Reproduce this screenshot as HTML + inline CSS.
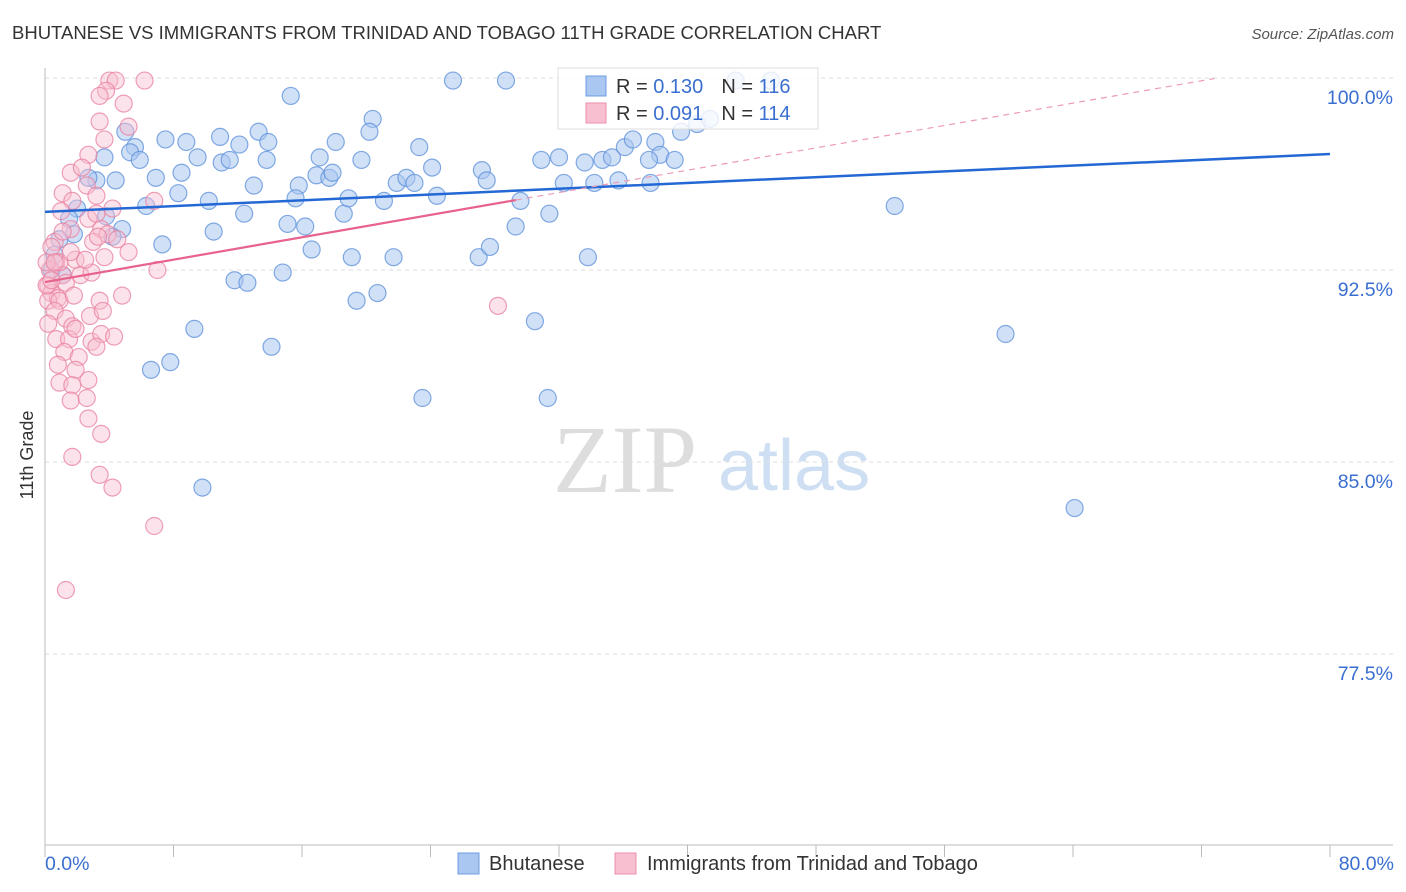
<!DOCTYPE html>
<html><head><meta charset="utf-8">
<style>
body{margin:0;background:#fff;width:1406px;height:892px;overflow:hidden;font-family:"Liberation Sans",sans-serif}
svg{position:absolute;left:0;top:0}
</style></head>
<body>
<svg id="chart" width="1406" height="892" xmlns="http://www.w3.org/2000/svg">
<text x="12" y="39" font-size="18.5" fill="#333">BHUTANESE VS IMMIGRANTS FROM TRINIDAD AND TOBAGO 11TH GRADE CORRELATION CHART</text>
<text x="1394" y="39" font-size="15" fill="#555" font-style="italic" text-anchor="end">Source: ZipAtlas.com</text>
<g>
<text x="553" y="492" font-family="Liberation Serif,serif" font-size="96" fill="#ddd">ZIP</text>
<text x="718" y="490" font-size="72" fill="#cfdff3">atlas</text>
</g>
<g id="grid"></g>
<g id="axes"></g>
<g id="pts"></g>
<g id="trend"></g>
<g>
<rect x="558" y="68" width="260" height="61" fill="#fff" fill-opacity="0.8" stroke="#ddd"/>
<rect x="586" y="76" width="20" height="20" fill="#a9c7f0" stroke="#6d9ee0"/>
<rect x="586" y="103" width="20" height="20" fill="#f8bfd0" stroke="#eb8fab"/>
<text x="616" y="93" font-size="20" fill="#333">R = <tspan fill="#3a6fd0">0.130</tspan><tspan dx="18">N = </tspan><tspan fill="#3a6fd0">116</tspan></text>
<text x="616" y="120" font-size="20" fill="#333">R = <tspan fill="#3a6fd0">0.091</tspan><tspan dx="18">N = </tspan><tspan fill="#3a6fd0">114</tspan></text>
</g>
<text transform="translate(33,455) rotate(-90)" font-size="18" fill="#333" text-anchor="middle">11th Grade</text>
<text x="45" y="870" font-size="19.5" fill="#3a6fd0">0.0%</text>
<text x="1394" y="870" font-size="19.5" fill="#3a6fd0" text-anchor="end">80.0%</text>
<g>
<rect x="458" y="853" width="21" height="21" fill="#a9c7f0" stroke="#6d9ee0"/>
<text x="489" y="870" font-size="20" fill="#333">Bhutanese</text>
<rect x="615" y="853" width="21" height="21" fill="#f8bfd0" stroke="#eb8fab"/>
<text x="647" y="870" font-size="20" fill="#333">Immigrants from Trinidad and Tobago</text>
</g>
</svg>
<script>
const yTicks=[100,92.5,85,77.5];
const yTickLabels=["100.0%","92.5%","85.0%","77.5%"];
const xTicks=[0,8,16,24,32,40,48,56,64,72,80];
const blueX=[25.4,28.7,43.0,45.2,15.3,20.4,5.0,7.5,8.8,10.9,13.3,13.9,18.1,20.2,23.3,12.1,5.6,5.3,5.9,3.7,3.2,4.4,2.7,9.5,11.0,11.5,13.8,17.1,19.7,24.1,30.9,32.0,33.6,34.7,35.3,36.1,36.6,38.0,38.3,39.2,37.6,39.6,40.6,41.4,8.5,6.9,13.0,15.8,16.9,17.7,17.9,21.9,22.5,23.0,27.2,27.5,29.6,32.3,34.2,35.7,37.7,8.3,10.2,12.4,15.6,18.6,18.9,21.1,24.4,6.3,2.0,1.5,1.8,3.8,4.8,4.2,7.3,10.5,15.1,16.2,16.6,19.1,21.7,27.0,27.7,29.3,31.4,33.8,52.9,11.8,12.6,14.8,19.4,20.7,9.3,14.1,6.6,7.8,30.5,59.8,23.5,31.3,9.8,64.1,0.9,0.6,1.1,0.4];
const blueY=[99.9,99.9,99.9,99.9,99.3,98.4,97.9,97.6,97.5,97.7,97.9,97.5,97.5,97.9,97.3,97.4,97.3,97.1,96.8,96.9,96.0,96.0,96.1,96.9,96.7,96.8,96.8,96.9,96.8,96.5,96.8,96.9,96.7,96.8,96.9,97.3,97.6,97.5,97.0,96.8,96.8,97.9,98.2,98.4,96.3,96.1,95.8,95.8,96.2,96.1,96.3,95.9,96.1,95.9,96.4,96.0,95.2,95.9,95.9,96.0,95.9,95.5,95.2,94.7,95.3,94.7,95.3,95.2,95.4,95.0,94.9,94.5,93.9,94.6,94.1,93.8,93.5,94.0,94.3,94.2,93.3,93.0,93.0,93.0,93.4,94.2,94.7,93.0,95.0,92.1,92.0,92.4,91.3,91.6,90.2,89.5,88.6,88.9,90.5,90.0,87.5,87.5,84.0,83.2,93.7,93.1,92.3,92.5];
const pinkX=[4.0,4.4,6.2,3.8,4.9,3.4,5.2,3.4,2.7,3.7,1.6,2.3,2.6,3.2,1.1,1.7,4.2,2.7,3.2,1.0,0.6,1.6,3.5,3.9,4.5,5.2,3.0,0.7,1.1,1.9,0.3,0.2,0.4,0.8,1.3,2.2,2.9,0.2,0.9,1.8,3.4,4.8,7.0,0.6,1.3,1.7,2.8,3.6,0.2,0.7,1.5,1.9,2.9,3.5,4.3,1.2,2.1,3.2,0.8,1.9,0.9,1.7,2.7,1.6,2.6,2.7,3.5,1.7,3.4,4.2,6.8,1.3,6.8,3.7,3.3,1.1,0.4,2.5,0.9,0.1,0.1,0.4,0.6,1.6,28.2];
const pinkY=[99.9,99.9,99.9,99.5,99.0,99.3,98.1,98.3,97.0,97.6,96.3,96.5,95.8,95.4,95.5,95.2,94.9,94.5,94.7,94.8,93.6,94.1,94.1,93.9,93.7,93.2,93.6,92.8,92.3,92.9,92.5,91.9,91.6,91.4,92.0,92.3,92.4,91.3,91.3,91.5,91.3,91.5,92.5,90.9,90.6,90.3,90.7,90.9,90.4,89.8,89.8,90.2,89.7,90.0,89.9,89.3,89.1,89.5,88.8,88.6,88.1,88.0,88.2,87.4,87.5,86.7,86.1,85.2,84.5,84.0,82.5,80.0,95.2,93.0,93.8,94.0,93.4,92.9,92.8,92.8,91.9,92.1,92.8,93.2,91.1];
const blueTrend=[[0,94.77],[80,97.03]];
const pinkTrendSolid=[[0,92.03],[29.3,95.23]];
const pinkTrendDash=[[29.3,95.23],[72.8,99.98]];

const NS="http://www.w3.org/2000/svg";
const X=v=>45+v/80*1285;
const Y=v=>78+(100-v)/7.5*192;
function mk(tag,attrs,parent){const e=document.createElementNS(NS,tag);for(const k in attrs)e.setAttribute(k,attrs[k]);parent.appendChild(e);return e;}
const grid=document.getElementById('grid'),axes=document.getElementById('axes'),pts=document.getElementById('pts'),trend=document.getElementById('trend');
yTicks.forEach((t,i)=>{
 const l=mk('line',{x1:45,x2:1393,y1:Y(t),y2:Y(t),stroke:'#ddd','stroke-dasharray':'4,4'},grid);
 
 
 const tx=mk('text',{x:1393,y:Y(t)+26,'font-size':19.5,fill:'#3a6fd0','text-anchor':'end'},grid);
 tx.textContent=yTickLabels[i];
 
 
});
const la=mk('line',{x1:45,x2:45,y1:68,y2:845,stroke:'#bbb'},axes);


const lb=mk('line',{x1:45,x2:1393,y1:845,y2:845,stroke:'#bbb'},axes);


xTicks.forEach(t=>{
 const k=mk('line',{x1:X(t),x2:X(t),y1:845,y2:857,stroke:'#bbb'},axes);
 
 
});
blueX.forEach((v,i)=>{
 const c=mk('circle',{cx:X(v),cy:Y(blueY[i]),r:8.5,fill:'#a9c7f0','fill-opacity':0.55,stroke:'#5b8fd9','stroke-opacity':0.75,'stroke-width':1.2},pts);
 
 
});
pinkX.forEach((v,i)=>{
 const c=mk('circle',{cx:X(v),cy:Y(pinkY[i]),r:8.5,fill:'#f8bfd0','fill-opacity':0.45,stroke:'#e8809f','stroke-opacity':0.75,'stroke-width':1.2},pts);
 
 
});
const b=mk('line',{x1:X(blueTrend[0][0]),y1:Y(blueTrend[0][1]),x2:X(blueTrend[1][0]),y2:Y(blueTrend[1][1]),stroke:'#2368d4','stroke-width':2.5},trend);


const p=mk('line',{x1:X(pinkTrendSolid[0][0]),y1:Y(pinkTrendSolid[0][1]),x2:X(pinkTrendSolid[1][0]),y2:Y(pinkTrendSolid[1][1]),stroke:'#e8628e','stroke-width':2.2},trend);


const pd=mk('line',{x1:X(pinkTrendDash[0][0]),y1:Y(pinkTrendDash[0][1]),x2:X(pinkTrendDash[1][0]),y2:Y(pinkTrendDash[1][1]),stroke:'#ee9ab5','stroke-width':1.2,'stroke-dasharray':'6,5'},trend);


</script>
</body></html>
